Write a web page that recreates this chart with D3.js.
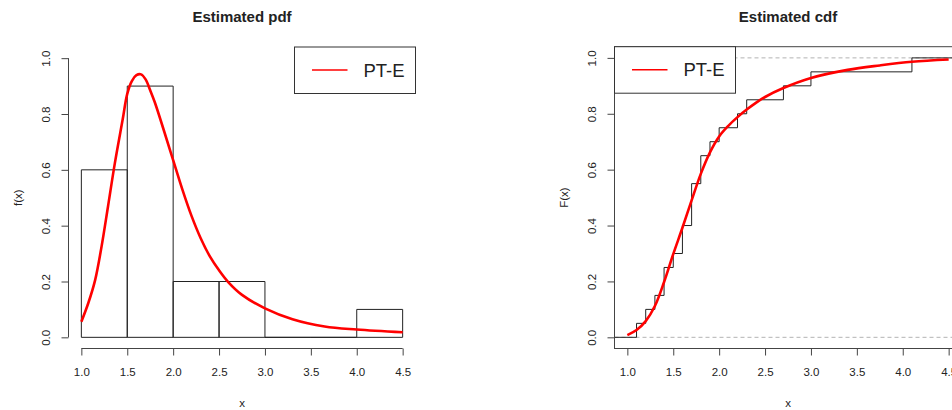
<!DOCTYPE html>
<html><head><meta charset="utf-8">
<script src="https://cdn.jsdelivr.net/npm/d3@7"></script>
<style>
body{margin:0;background:#fff}
svg{display:block;background:#fff}
text{font-family:"Liberation Sans",Arial,sans-serif;fill:#222}
</style>
</head><body>
<svg id="c" width="952" height="410"></svg>
<script>
// ---------- data ----------
const histBreaks = [1.0, 1.5, 2.0, 2.5, 3.0, 3.5, 4.0, 4.5];
const histDensity = [0.6, 0.9, 0.2, 0.2, 0.0, 0.0, 0.1];
const sample = [1.1, 1.2, 1.3, 1.4, 1.4, 1.5, 1.6, 1.6, 1.7, 1.7, 1.7, 1.8, 1.8, 1.9, 2.0, 2.2, 2.3, 2.7, 3.0, 4.1];
const pdfX = [1.0, 1.075, 1.15, 1.22, 1.29, 1.365, 1.45, 1.5, 1.55, 1.6, 1.65, 1.7, 1.75, 1.8, 1.9, 2.0, 2.1, 2.2, 2.3, 2.4, 2.5, 2.6, 2.75, 3.0, 3.3, 3.65, 4.0, 4.5];
const pdfY = [0.056, 0.122, 0.205, 0.325, 0.468, 0.624, 0.78, 0.872, 0.918, 0.939, 0.942, 0.924, 0.885, 0.842, 0.74, 0.635, 0.53, 0.435, 0.355, 0.29, 0.24, 0.198, 0.152, 0.104, 0.065, 0.039, 0.028, 0.018];
const cdfX = [1.0, 1.1, 1.2, 1.3, 1.4, 1.5, 1.6, 1.7, 1.8, 1.9, 2.0, 2.1, 2.2, 2.3, 2.4, 2.5, 2.7, 3.0, 3.4, 3.75, 4.1, 4.5];
const cdfY = [0.008, 0.026, 0.058, 0.112, 0.198, 0.298, 0.392, 0.49, 0.585, 0.662, 0.719, 0.757, 0.788, 0.815, 0.839, 0.86, 0.892, 0.928, 0.957, 0.973, 0.986, 0.994];
const xTicks = [1.0, 1.5, 2.0, 2.5, 3.0, 3.5, 4.0, 4.5];
const yTicks = [0.0, 0.2, 0.4, 0.6, 0.8, 1.0];
const titles = ["Estimated pdf", "Estimated cdf"];
const yLabels = ["f(x)", "F(x)"];
const xLabel = "x";
const legendLabel = "PT-E";

// ---------- layout ----------
const svg = d3.select("#c");
const xDom = [0.86, 4.64], yDom = [-0.04, 1.04];
const panels = [
  {x: d3.scaleLinear(xDom, [68.5, 415.5]), y: d3.scaleLinear(yDom, [348.5, 47]), ylabX: 21.5},
  {x: d3.scaleLinear(xDom, [614.5, 961.5]), y: d3.scaleLinear(yDom, [348.5, 46.7]), ylabX: 568}
];
const fmt = d3.format(".1f");
const axisCol = "#444";

function drawAxes(g, p, withDomainLines) {
  const ax = g.append("g").attr("transform", `translate(0,348.5)`)
    .call(d3.axisBottom(p.x).tickValues(xTicks).tickFormat(fmt).tickSize(7).tickSizeOuter(0));
  const ay = g.append("g").attr("transform", `translate(${p.x.range()[0]},0)`)
    .call(d3.axisLeft(p.y).tickValues(yTicks).tickFormat(fmt).tickSize(7).tickSizeOuter(0));
  [ax, ay].forEach(a => {
    a.select(".domain").remove();
    a.selectAll("line").attr("stroke", axisCol);
    a.selectAll("text").style("font-family", '"Liberation Sans",Arial,sans-serif')
      .style("font-size", "11.5px").attr("fill", "#222");
  });
  ax.selectAll("text").attr("y", 27.5).attr("dy", "0");
  ay.selectAll("text").attr("x", 0).attr("dy", "0").attr("text-anchor", "middle")
    .attr("transform", "translate(-18.5,0) rotate(-90)");
  if (withDomainLines) {
    g.append("line").attr("x1", p.x(xTicks[0])).attr("x2", p.x(xTicks[xTicks.length-1]))
      .attr("y1", 348.5).attr("y2", 348.5).attr("stroke", axisCol);
    g.append("line").attr("x1", p.x.range()[0]).attr("x2", p.x.range()[0])
      .attr("y1", p.y(yTicks[0])).attr("y2", p.y(yTicks[yTicks.length-1])).attr("stroke", axisCol);
  }
}

function drawLabels(g, p, i) {
  const cx = (p.x.range()[0] + p.x.range()[1]) / 2;
  const cy = (p.y.range()[0] + p.y.range()[1]) / 2;
  g.append("text").attr("x", cx).attr("y", 22).attr("text-anchor", "middle")
    .style("font-size", "15px").style("font-weight", "bold").attr("fill", "#000").text(titles[i]);
  g.append("text").attr("x", cx).attr("y", 407).attr("text-anchor", "middle")
    .style("font-size", "11.5px").text(xLabel);
  g.append("text").attr("transform", `translate(${p.ylabX},${cy}) rotate(-90)`).attr("text-anchor", "middle")
    .style("font-size", "11.5px").text(yLabels[i]);
}

function drawLegend(g, x0, y0) {
  const w = 121, h = 46.5;
  g.append("rect").attr("x", x0).attr("y", y0).attr("width", w).attr("height", h)
    .attr("fill", "#fff").attr("stroke", "#333").attr("stroke-width", 1);
  g.append("line").attr("x1", x0 + 17.5).attr("x2", x0 + 53).attr("y1", y0 + 23).attr("y2", y0 + 23)
    .attr("stroke", "#ff0000").attr("stroke-width", 1.5);
  g.append("text").attr("x", x0 + 69).attr("y", y0 + 29.6)
    .style("font-size", "18.5px").attr("fill", "#111").text(legendLabel);
}

// ---------- left panel: histogram + pdf ----------
{
  const p = panels[0];
  const g = svg.append("g");
  const bins = histDensity.map((d, i) => ({x0: histBreaks[i], x1: histBreaks[i+1], d}));
  g.selectAll("path.bar").data(bins).join("path").attr("class", "bar")
    .attr("d", b => {
      const pa = d3.path();
      pa.moveTo(p.x(b.x0), p.y(0)); pa.lineTo(p.x(b.x1), p.y(0));
      pa.lineTo(p.x(b.x1), p.y(b.d)); pa.lineTo(p.x(b.x0), p.y(b.d)); pa.closePath();
      return pa.toString();
    })
    .attr("fill", "none").attr("stroke", "#222").attr("stroke-width", 1);
  const line = d3.line().x((d, i) => p.x(pdfX[i])).y(d => p.y(d)).curve(d3.curveCatmullRom.alpha(0.5));
  g.append("path").attr("d", line(pdfY)).attr("fill", "none").attr("stroke", "#ff0000")
    .attr("stroke-width", 2.6).attr("stroke-linejoin", "round");
  drawAxes(g, p, true);
  drawLabels(g, p, 0);
  drawLegend(g, p.x.range()[1] - 121, p.y.range()[1]);
}

// ---------- right panel: ecdf + cdf ----------
{
  const p = panels[1];
  const g = svg.append("g");
  const [L, R] = p.x.range(), [B, T] = p.y.range();
  [0, 1].forEach(v => g.append("line").attr("x1", L).attr("x2", R).attr("y1", p.y(v)).attr("y2", p.y(v))
    .attr("stroke", "#b3b3b3").attr("stroke-dasharray", "4,3"));
  const sorted = sample.slice().sort(d3.ascending);
  const uniq = Array.from(new Set(sorted));
  const steps = [[xDom[0], 0]].concat(uniq.map(u => [u, sorted.filter(s => s <= u).length / sorted.length]));
  steps.push([xDom[1], 1]);
  const stepLine = d3.line().x(d => p.x(d[0])).y(d => p.y(d[1])).curve(d3.curveStepAfter);
  g.append("path").attr("d", stepLine(steps)).attr("fill", "none").attr("stroke", "#222").attr("stroke-width", 1);
  const line = d3.line().x((d, i) => p.x(cdfX[i])).y(d => p.y(d)).curve(d3.curveCatmullRom.alpha(0.5));
  g.append("path").attr("d", line(cdfY)).attr("fill", "none").attr("stroke", "#ff0000")
    .attr("stroke-width", 2.6).attr("stroke-linejoin", "round");
  g.append("rect").attr("x", L).attr("y", T).attr("width", R - L).attr("height", B - T)
    .attr("fill", "none").attr("stroke", axisCol);
  drawAxes(g, p, false);
  drawLabels(g, p, 1);
  drawLegend(g, L, T);
}
</script>
</body></html>
